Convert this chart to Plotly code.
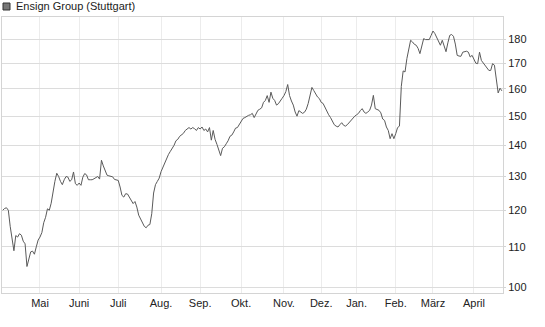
import math
import pandas as pd
import plotly.graph_objects as go

# Daily closing prices (EUR), one per Stuttgart trading day
prices = [
    120.0, 120.5, 120.7, 120.0, 115.5, 111.8, 109.0, 113.0, 112.6, 113.5,
    113.1, 111.5, 110.8, 105.0, 107.0, 108.7, 108.9, 108.1, 110.0, 111.8,
    112.6, 113.8, 116.5, 118.0, 120.4, 120.0, 122.0, 125.5, 128.5, 131.0,
    130.0, 128.5, 127.5, 129.0, 130.0, 129.8, 128.5, 129.0, 131.4, 127.8,
    127.3, 128.0, 127.3, 129.8, 130.9, 130.5, 129.0, 129.0, 129.0, 129.3,
    129.8, 130.0, 129.2, 135.1, 133.3, 131.5, 130.4, 130.2, 130.0, 129.9,
    129.1, 129.0, 128.8, 126.8, 124.3, 123.8, 124.8, 124.7, 123.8, 122.8,
    121.9, 122.5, 120.9, 118.6, 117.5, 116.7, 115.5, 115.1, 115.8, 116.0,
    119.0, 125.0, 127.5, 128.5, 129.5, 131.5, 133.0, 134.5, 135.6, 137.0,
    138.0, 139.0, 140.0, 141.5, 142.0, 143.0, 143.4, 144.0, 145.0, 145.5,
    146.0, 145.5, 146.0, 145.6, 145.0, 146.0, 145.5, 146.2, 145.0, 145.5,
    144.5, 146.0, 141.7, 145.0, 142.0, 140.3, 138.0, 136.6, 139.0, 139.5,
    140.5, 141.5, 143.0, 143.4, 144.5, 145.8, 146.0, 147.0, 148.0, 149.2,
    149.5, 150.0, 150.3, 150.5, 151.0, 149.5, 151.0, 152.1, 152.5, 153.0,
    155.0, 155.7, 157.5, 155.0, 158.8, 156.5, 155.7, 154.0, 154.5, 155.7,
    156.5, 157.5, 159.0, 161.7, 157.5, 155.5, 154.0, 151.5, 150.0, 152.0,
    151.5, 151.0, 151.4, 152.5, 154.6, 158.0, 160.6, 159.4, 158.0, 157.0,
    156.4, 155.0, 154.6, 153.0, 152.0, 150.5, 149.5, 148.0, 147.0, 146.5,
    146.2, 147.0, 147.7, 146.8, 146.5, 147.0, 147.7, 148.5, 149.5, 150.0,
    150.5, 151.0, 152.0, 152.7, 151.5, 151.0, 151.5, 152.1, 154.0, 157.6,
    152.7, 152.5, 152.1, 151.2, 149.0, 148.5, 146.2, 145.0, 142.2, 143.9,
    142.2, 143.9, 146.0, 146.5, 161.0, 167.0, 166.6, 172.0, 176.5, 179.6,
    178.9, 177.9, 177.5, 176.2, 174.0, 177.5, 180.3, 179.9, 179.9, 179.9,
    181.7, 183.6, 182.5, 181.0, 179.6, 177.5, 179.6, 176.7, 174.8, 178.5,
    181.7, 182.1, 181.3, 178.0, 173.3, 173.0, 172.9, 174.6, 174.8, 175.0,
    174.6, 172.6, 173.3, 171.9, 170.1, 169.9, 174.6, 171.2, 170.1, 169.3,
    168.0, 167.2, 167.2, 169.9, 169.3, 164.0, 158.5, 160.3, 159.3,
]

holidays = ["2025-04-18", "2025-04-21", "2025-05-01", "2025-12-24", "2025-12-25",
            "2025-12-26", "2025-12-31", "2026-01-01", "2026-04-03", "2026-04-06"]
month_labels = ["Mai", "Juni", "Juli", "Aug.", "Sep.", "Okt.", "Nov.", "Dez.",
                "Jan.", "Feb.", "März", "April"]
y_ticks = [100, 110, 120, 130, 140, 150, 160, 170, 180]
series_name = "Ensign Group (Stuttgart)"

days = pd.bdate_range("2025-04-01", "2026-04-30")
days = days[~days.isin(pd.to_datetime(holidays))]
n = min(len(days), len(prices))
days = days[:n]
xs = list(range(n))

# first trading day of each month from May on
tick_idx = []
seen = set()
for i, d in enumerate(days):
    key = (d.year, d.month)
    if key not in seen:
        seen.add(key)
        if i > 0:
            tick_idx.append(i)
tick_idx = tick_idx[:len(month_labels)]

W, H = 545, 327
ML, MR, MT, MB = 2, 42, 17, 34
pw, ph = W - ML - MR, H - MT - MB

fig = go.Figure()
fig.add_trace(go.Scatter(
    x=xs, y=prices[:n], mode="lines",
    line=dict(color="#5a5a5a", width=1),
    customdata=[d.strftime("%d.%m.%Y") for d in days],
    hovertemplate="%{customdata}: %{y:.2f}<extra></extra>",
    showlegend=False,
))

font = "Liberation Sans, Arial, sans-serif"
grid = "#e4e4e4"

fig.update_layout(
    width=W, height=H,
    margin=dict(l=ML, r=MR, t=MT, b=MB),
    paper_bgcolor="white", plot_bgcolor="white",
    font=dict(family=font, size=11, color="#222"),
    xaxis=dict(
        range=[-0.4, 268.6], tickvals=tick_idx, ticktext=month_labels,
        showgrid=True, gridcolor="#ececec", gridwidth=1,
        showline=True, linecolor="#d4d4d4", linewidth=1, mirror=True,
        zeroline=False, ticks="", tickfont=dict(size=11, color="#222"),
    ),
    yaxis=dict(
        type="log", range=[math.log10(98.6), math.log10(189.8)],
        tickvals=y_ticks, ticktext=[str(v) for v in y_ticks], side="right",
        showgrid=True, gridcolor="#dcdcdc", gridwidth=1,
        showline=True, linecolor="#d4d4d4", linewidth=1, mirror=True,
        zeroline=False, ticks="outside", ticklen=2, tickcolor="#d4d4d4",
        tickfont=dict(size=11, color="#222"),
    ),
    shapes=[dict(
        type="rect", xref="paper", yref="paper",
        x0=(3 - ML) / pw, x1=(10 - ML) / pw,
        y0=(H - MB - 10) / ph, y1=(H - MB - 3) / ph,
        fillcolor="#777777", line=dict(color="#333333", width=1),
    )],
    annotations=[dict(
        text=series_name, xref="paper", yref="paper",
        x=(14 - ML) / pw, y=(H - MB - 6.5) / ph,
        xanchor="left", yanchor="middle", showarrow=False,
        font=dict(family=font, size=11, color="#222"),
    )],
)

fig.write_html("out.html")
